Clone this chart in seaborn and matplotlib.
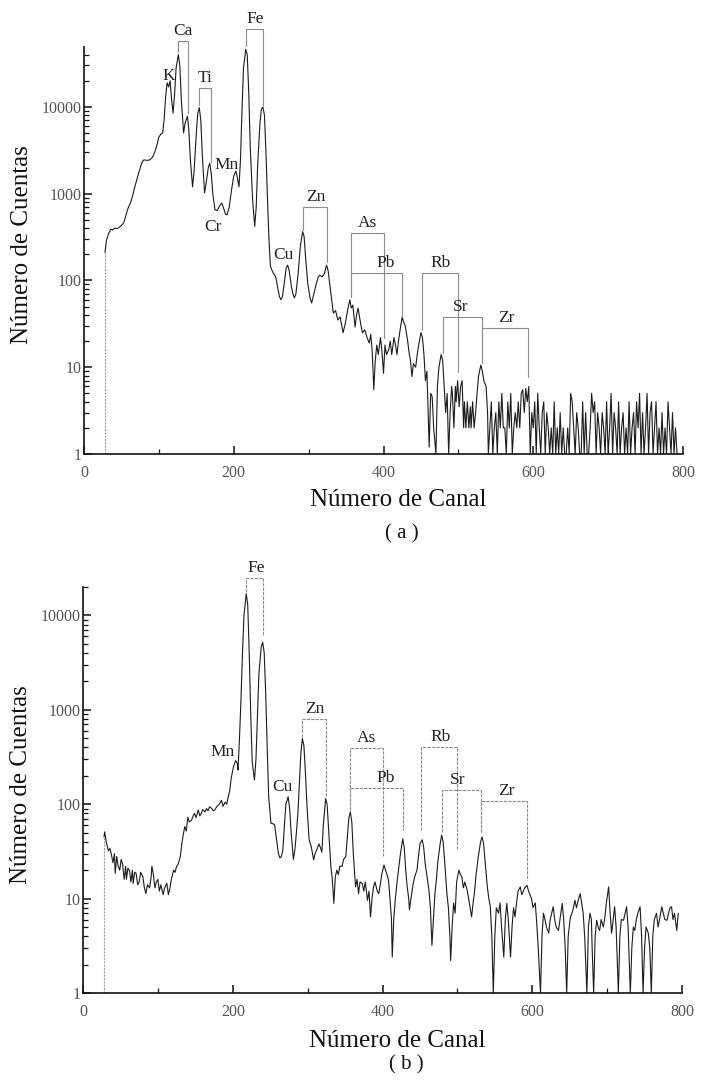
import matplotlib
matplotlib.use("Agg")
import matplotlib.pyplot as plt
import matplotlib.ticker as mticker
import pandas as pd
import seaborn as sns

# ---------------- Panel (a): spectrum ----------------
CH_A = [28, 30, 33, 36, 38, 41, 44, 47, 50, 53,
        56, 58, 60, 62, 65, 67, 70, 73, 76, 78,
        80, 84, 88, 91, 93, 96, 98, 100, 103, 105,
        107, 109, 111, 113, 115, 117, 119, 121, 123, 126,
        128, 130, 133, 135, 138, 140, 142, 145, 147, 150,
        152, 154, 156, 158, 161, 163, 166, 168, 170, 172,
        175, 178, 181, 184, 186, 189, 191, 194, 197, 200,
        203, 205, 207, 209, 211, 213, 216, 218, 220, 222,
        225, 228, 230, 232, 235, 237, 239, 241, 243, 245,
        247, 249, 252, 256, 259, 261, 263, 265, 268, 270,
        272, 274, 277, 279, 281, 283, 286, 289, 292, 294,
        296, 299, 302, 304, 307, 310, 313, 315, 318, 321,
        324, 326, 329, 333, 336, 339, 342, 346, 349, 352,
        355, 357, 359, 362, 364, 366, 368, 370, 372, 375,
        378, 381, 383, 385, 387, 389, 391, 393, 396, 398,
        400, 402, 404, 407, 409, 411, 414, 416, 418, 420,
        423, 425, 427, 429, 432, 434, 436, 438, 440, 443,
        445, 447, 450, 452, 454, 456, 458, 461, 463, 465,
        467, 470, 472, 474, 477, 479, 481, 483, 485, 487,
        489, 491, 492, 494, 496, 497, 499, 501, 503, 505,
        507, 508, 510, 512, 514, 516, 517, 519, 521, 523,
        525, 527, 530, 532, 534, 537, 539, 540,
        542, 544, 546, 548, 550, 552, 554, 556, 558, 560,
        562, 564, 566, 568, 570, 572, 574, 576, 578, 580,
        582, 584, 586, 588, 590, 592, 594, 596, 598, 600,
        602, 604, 606, 608, 610, 612, 614, 616, 618, 620,
        622, 624, 626, 628, 630, 632, 634, 636, 638, 640,
        642, 644, 646, 648, 650, 652, 654, 656, 658, 660,
        662, 664, 666, 668, 670, 672, 674, 676, 678, 680,
        682, 684, 686, 688, 690, 692, 694, 696, 698, 700,
        702, 704, 706, 708, 710, 712, 714, 716, 718, 720,
        722, 724, 726, 728, 730, 732, 734, 736, 738, 740,
        742, 744, 746, 748, 750, 752, 754, 756, 758, 760,
        762, 764, 766, 768, 770, 772, 774, 776, 778, 780,
        782, 784, 786, 788, 790, 792, 794]
CT_A = [210, 290, 350, 390, 380, 400, 395, 410, 430, 460,
        560, 650, 720, 780, 950, 1120, 1400, 1730, 2100, 2350,
        2450, 2420, 2450, 2600, 2800, 3300, 3800, 4500, 4900, 5000,
        7100, 13000, 19000, 17000, 20000, 12000, 8500, 14000, 28000, 40000,
        30000, 12000, 5000, 6500, 7800, 5500, 2500, 1200, 1800, 5000,
        8500, 9800, 7000, 2800, 1020, 1300, 2000, 2250, 1700, 1000,
        650, 640, 720, 780, 700, 580, 570, 700, 1100, 1600,
        1820, 1500, 1200, 2500, 9000, 28000, 46000, 40000, 15000, 3500,
        900, 420, 700, 2200, 6500, 9500, 10000, 8000, 3000, 900,
        300, 145, 125, 110, 80, 65, 60, 65, 100, 140,
        150, 130, 85, 70, 63, 70, 120, 250, 365, 320,
        180, 90, 62, 55, 70, 90, 110, 115, 110, 120,
        150, 130, 80, 42, 45, 35, 38, 25, 32, 45,
        60, 48, 52, 29, 40, 48, 38, 30, 25, 27,
        22, 19, 24, 15, 5.5, 12, 18, 14, 22, 15,
        8.5, 18, 14, 16, 20, 14, 22, 18, 14, 20,
        30, 38, 33, 30, 21, 15, 12, 7.8, 11, 10,
        14, 18, 25, 22, 14, 7, 9, 1.2, 5, 4.6,
        2, 1, 6, 10, 14, 12, 6, 3, 5, 1,
        3, 6, 5, 2, 6, 4, 7, 3.5, 6, 7,
        2, 4, 2, 4, 2, 3.5, 2, 4, 2, 3,
        5, 8, 10.6, 9, 7, 6, 3, 1,
        2, 4, 1, 2, 3, 1, 4, 2, 5, 2,
        2, 1, 4, 2, 5, 1, 2, 3, 2, 4,
        2, 5, 5.5, 3, 5.7, 4, 6, 1, 3, 2,
        4, 1, 5, 2, 1, 3, 4, 1, 3, 2,
        1, 2, 1, 4, 1, 2, 1, 3, 1, 2,
        1, 1, 2, 1, 5, 4, 2, 1, 3, 2,
        1, 1, 4, 1, 3, 1, 1, 2, 5, 3,
        4, 1, 3, 2, 1, 3, 2, 1, 4, 1,
        2, 5, 1, 3, 2, 1, 4, 1, 2, 3,
        1, 2, 1, 4, 1, 2, 3, 1, 4, 2,
        5, 1, 3, 1, 2, 5, 1, 3, 4, 1,
        2, 4, 1, 2, 1, 3, 1, 2, 1, 4,
        2, 1, 3, 1, 2, 1, 1]

# ---------------- Panel (b): spectrum ----------------
CH_B = [28, 29, 31, 34, 36, 38, 40, 42, 43, 45,
        47, 49, 51, 53, 55, 57, 58, 60, 62, 64,
        66, 67, 69, 71, 73, 75, 77, 80, 82, 84,
        86, 89, 91, 92, 94, 96, 98, 100, 102, 104,
        107, 109, 112, 114, 116, 118, 121, 123, 125, 127,
        130, 132, 134, 136, 138, 140, 142, 145, 147, 149,
        151, 154, 156, 158, 160, 163, 165, 167, 169, 172,
        174, 176, 179, 182, 185, 187, 190, 192, 194, 196,
        198, 201, 204, 206, 207, 209, 211, 213, 215, 218,
        220, 222, 224, 226, 229, 231, 233, 235, 238, 240,
        242, 244, 246, 248, 251, 254, 256, 258, 261, 263,
        265, 267, 269, 271, 274, 276, 278, 281, 283, 285,
        287, 289, 291, 293, 295, 297, 299, 302, 305, 308,
        310, 313, 315, 317, 319, 321, 324, 326, 328, 331,
        333, 335, 337, 339, 341, 343, 346, 348, 351, 353,
        355, 357, 359, 361, 364, 366, 368, 370, 373, 375,
        377, 380, 382, 384, 386, 388, 390, 393, 395, 397,
        399, 402, 404, 406, 408, 410, 412, 413, 415, 417,
        419, 422, 424, 427, 429, 431, 433, 435, 436, 438,
        441, 443, 446, 448, 450, 453, 455, 457, 459, 462,
        464, 466, 468, 470, 472, 474, 477, 479, 481, 483,
        486, 488, 490, 491, 493, 495, 497, 499, 502, 504,
        506, 508, 510, 513, 515, 517, 519, 521, 523, 525,
        528, 531, 533, 535, 537, 540, 542, 544, 546, 548,
        550, 552, 555, 557, 559, 562, 564, 566, 568, 571,
        573, 575, 577, 579, 581, 584, 586, 588, 590, 593,
        595, 597, 599, 601, 604, 606, 608, 611, 613, 615,
        617, 619, 622, 624, 626, 628, 630, 632, 635, 637,
        640, 642, 644, 646, 648, 651, 653, 655, 657, 659,
        662, 664, 666, 668, 670, 673, 675, 677, 679, 680,
        682, 684, 686, 688, 690, 692, 695, 697, 699, 702,
        704, 706, 708, 710, 712, 715, 717, 719, 722, 724,
        726, 728, 731, 733, 735, 737, 739, 741, 744, 746,
        748, 750, 752, 755, 757, 759, 761, 763, 766, 768,
        770, 773, 775, 777, 780, 782, 784, 786, 788, 790,
        793, 795]
CT_B = [45, 51, 40, 32, 34, 29, 24, 30, 18.5, 28,
        22, 20, 26, 23, 16, 22, 16, 21, 20, 15,
        20, 14.5, 19, 18.5, 14, 15, 19, 17, 13, 11.3,
        14, 13, 17, 22, 18, 13, 15, 16, 12, 14,
        11, 13, 14.5, 11, 12.8, 16, 20, 19, 22, 23,
        28, 38, 48, 58, 52, 73, 65, 68, 75, 80,
        72, 87, 75, 80, 88, 83, 90, 85, 94, 90,
        85, 87, 95, 100, 110, 95, 105, 100, 120, 140,
        190, 250, 290, 270, 230, 500, 1300, 4000, 10000, 17000,
        13000, 4000, 900, 280, 180, 300, 900, 2500, 4600, 5200,
        4000, 1500, 400, 120, 63, 62, 60, 45, 30, 27,
        28, 33, 60, 100, 120, 90, 50, 26, 33, 50,
        80, 170, 350, 495, 420, 220, 100, 42, 35, 25.7,
        30, 34, 38, 35, 31, 60, 115, 100, 55, 22,
        16, 8.9, 17, 20, 18, 22, 22, 26, 28, 45,
        70, 83, 65, 30, 13.3, 16, 11.3, 15, 14.5, 12,
        15, 9.6, 12, 6.4, 10, 13.3, 15, 12, 11.3, 14,
        18, 22.7, 20, 18, 15.7, 10, 6, 2.4, 6, 9.6,
        14, 22, 30, 43, 35, 20, 13.3, 10, 7.6, 10,
        14.5, 17, 20, 28, 38, 42, 35, 23.5, 18, 12.3,
        8, 3.2, 6, 11.3, 16, 25, 38, 47, 40, 25,
        11.3, 8, 4, 2.2, 5, 9, 7, 15, 20, 18,
        17, 13, 15, 12.3, 10, 8, 6.4, 9, 12, 18,
        28, 40, 45, 38, 25, 13.3, 10, 8.2, 4, 1,
        4, 8, 7, 9, 5, 2.4, 6, 8.9, 6, 2.4,
        5, 8, 6.4, 9, 12, 13.3, 11, 12, 13, 13.8,
        12, 11, 10, 8, 9, 5.5, 3, 1, 4, 7,
        6, 5, 4.3, 6, 7, 8.2, 6, 5, 4.6, 6,
        8.9, 6, 3, 1, 4, 6.4, 7, 8, 9.6, 8,
        10, 11.3, 9, 7, 4, 1, 5, 7, 6, 3,
        1, 4, 5.9, 5, 4.6, 6, 5, 6.4, 9, 13.3,
        7, 4.3, 6, 8.2, 5, 1, 4, 6, 5.9, 7,
        8.2, 5, 1, 3, 5, 4.6, 6, 7, 8.2, 4,
        1, 3, 5, 4.3, 3, 1, 4, 6, 7, 5,
        6, 8.2, 7, 6, 5.9, 7, 8, 8.2, 6, 7,
        4.6, 7]

# ---------------- Element brackets ----------------
BR_EL_A = ["Ca", "Ti", "Fe", "Zn", "As", "Pb", "Rb", "Sr", "Zr"]
BR_L1_A = [126, 154, 217, 292, 356, 356, 451, 479, 532]
BR_L2_A = [139, 169, 239, 324, 400, 425, 499, 532, 593]
BR_Y_A = [58000, 16500, 79000, 705, 354, 122, 122, 38, 28.3]
BR_LO1_A = [43000, 10500, 50000, 380, 65, 65, 27, 14.6, 11.2]
BR_LO2_A = [8500, 2300, 10500, 163, 22, 38, 8.9, 11.2, 7.7]
BR_TX_A = [132, 162, 228, 309, 378, 403, 476, 503, 564]
FREE_EL_A = ["K", "Mn", "Cr", "Cu"]
FREE_X_A = [113, 190, 172, 266]
FREE_Y_A = [23000, 2140, 410, 196]

BR_EL_B = ["Fe", "Zn", "As", "Pb", "Rb", "Sr", "Zr"]
BR_L1_B = [218, 293, 357, 357, 451, 480, 532]
BR_L2_B = [240, 324, 401, 427, 499, 532, 593]
BR_Y_B = [25000, 790, 390, 148, 400, 140, 108]
BR_LO1_B = [17500, 515, 86, 86, 53, 51, 51]
BR_LO2_B = [6100, 120, 28, 53, 33, 51, 15.7]
BR_TX_B = [231, 309, 379, 404, 477, 501, 565]
FREE_EL_B = ["Mn", "Cu"]
FREE_X_B = [187, 266]
FREE_Y_B = [355, 152]

YTICKS_A = [1, 10, 100, 1000, 10000]
YTICKS_B = [1, 10, 100, 1000, 10000]
XTICKS = [0, 200, 400, 600, 800]

sns.set_theme(style="ticks")
plt.rcParams["font.family"] = ["Liberation Serif", "DejaVu Serif"]

W, H = 701, 1084
fig = plt.figure(figsize=(W / 100, H / 100), dpi=100)
ax_a = fig.add_axes([84 / W, 1 - 454 / H, (683 - 84) / W, (454 - 47) / H])
ax_b = fig.add_axes([83 / W, 1 - 993 / H, (682 - 83) / W, (993 - 587) / H])


def draw_panel(ax, ch, ct, ytop, yticks, el, l1, l2, by, lo1, lo2, tx,
               fel, fx, fy, tag, tag_xy, xl_y, br_ls):
    assert len(ch) == len(ct), (len(ch), len(ct))
    ax.set_yscale("log")
    df = pd.DataFrame({"Canal": ch, "Cuentas": ct})
    sns.lineplot(data=df, x="Canal", y="Cuentas", ax=ax, estimator=None,
                 sort=False, color="#1c1c1c", lw=0.8)
    ax.vlines(ch[0], 1, ct[0], color="#a0a0a0", lw=0.8, ls=(0, (2, 1)))
    ax.set_xlim(0, 800)
    ax.set_ylim(1, ytop)

    for e, a, b, y, la, lb, t in zip(el, l1, l2, by, lo1, lo2, tx):
        ax.plot([a, a, b, b], [la, y, y, lb], color="#8c8c8c", lw=0.8,
                ls=br_ls, clip_on=False)
        ax.annotate(e, (t, y), xytext=(0, 1.5), textcoords="offset points",
                    ha="center", va="bottom", fontsize=12.5, color="#222222",
                    annotation_clip=False)
    for e, x, y in zip(fel, fx, fy):
        ax.text(x, y, e, ha="center", va="center", fontsize=12.5,
                color="#222222")

    sns.despine(ax=ax)
    for s in ("left", "bottom"):
        ax.spines[s].set_linewidth(1.2)
        ax.spines[s].set_color("#111111")

    ax.set_yticks(yticks)
    ax.set_yticklabels([str(v) for v in yticks])
    ax.yaxis.set_minor_locator(mticker.LogLocator(base=10, subs=range(2, 10)))
    ax.yaxis.set_minor_formatter(mticker.NullFormatter())
    ax.set_xticks(XTICKS)
    ax.set_xticklabels([str(v) for v in XTICKS])
    ax.xaxis.set_minor_locator(mticker.MultipleLocator(100))
    ax.tick_params(axis="both", which="major", direction="in", length=6,
                   width=1.1, color="#111111", labelsize=11.5,
                   labelcolor="#555555")
    ax.tick_params(axis="both", which="minor", direction="in", length=3.5,
                   width=0.9, color="#111111")
    ax.tick_params(axis="y", which="major", pad=1.5)
    ax.tick_params(axis="x", which="major", pad=8)

    ax.set_xlabel("Número de Canal", fontsize=18, color="#111111")
    ax.set_ylabel("Número de Cuentas", fontsize=18, color="#111111")
    ax.xaxis.label.set_verticalalignment("center")
    ax.yaxis.label.set_verticalalignment("center")
    ax.xaxis.set_label_coords(0.524, xl_y)
    ax.yaxis.set_label_coords(-0.1035, 0.514)
    ax.text(tag_xy[0], tag_xy[1], tag, transform=ax.transAxes, ha="center",
            va="center", fontsize=15, color="#111111")
    ax.grid(False)


draw_panel(ax_a, CH_A, CT_A, 49000, YTICKS_A, BR_EL_A, BR_L1_A, BR_L2_A,
           BR_Y_A, BR_LO1_A, BR_LO2_A, BR_TX_A, FREE_EL_A, FREE_X_A,
           FREE_Y_A, "( a )", (0.53, -0.197), -0.113, "-")
draw_panel(ax_b, CH_B, CT_B, 20000, YTICKS_B, BR_EL_B, BR_L1_B, BR_L2_B,
           BR_Y_B, BR_LO1_B, BR_LO2_B, BR_TX_B, FREE_EL_B, FREE_X_B,
           FREE_Y_B, "( b )", (0.54, -0.177), -0.118, (0, (3, 1)))

fig.savefig("out.png", dpi=100, facecolor="white")
